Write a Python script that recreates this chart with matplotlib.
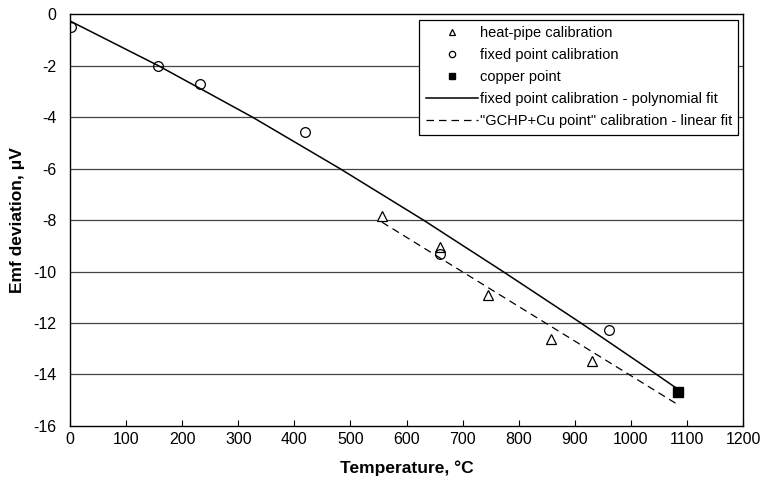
import numpy as np
import matplotlib.pyplot as plt

plt.rcParams['font.family'] = ['Liberation Sans', 'DejaVu Sans']
plt.rcParams['axes.unicode_minus'] = False

# fixed point calibration (measured points)
fp_t = [2, 156.6, 231.9, 419.5, 660.3, 961.8]
fp_e = [-0.5, -2.0, -2.72, -4.58, -9.32, -12.27]

# heat-pipe calibration
hp_t = [557, 660, 745, 857, 930]
hp_e = [-7.84, -9.05, -10.91, -12.62, -13.48]

# copper point
cu_t = [1084.6]
cu_e = [-14.68]

# polynomial fit curve
poly_t = [0, 157, 325, 481, 630, 772, 911, 1046, 1084.6]
poly_e = [-0.27, -2.0, -4.0, -6.0, -8.0, -10.0, -12.0, -14.0, -14.58]

# linear fit (GCHP + Cu)
lin_t = [556, 1084.6]
lin_e = [-8.08, -15.18]

fig = plt.figure(figsize=(7.62, 4.86), dpi=100)
ax = fig.add_axes([0.092, 0.1235, 0.883, 0.8475])

for yv in range(-14, 0, 2):
    ax.axhline(yv, color='#444444', lw=0.9, zorder=0)

ax.plot(hp_t, hp_e, ls='none', marker='^', ms=7, mfc='white', mec='black', mew=0.9,
        label='heat-pipe calibration', zorder=3)
ax.plot(fp_t, fp_e, ls='none', marker='o', ms=7, mfc='none', mec='black', mew=0.9,
        label='fixed point calibration', zorder=3)
ax.plot(cu_t, cu_e, ls='none', marker='s', ms=7, color='black',
        label='copper point', zorder=4)
ax.plot(poly_t, poly_e, color='black', lw=1.1,
        label='fixed point calibration - polynomial fit', zorder=2)
ax.plot(lin_t, lin_e, color='black', lw=0.9, ls=(0, (6, 4)),
        label='"GCHP+Cu point" calibration - linear fit', zorder=2)

ax.set_xlim(0, 1200)
ax.set_ylim(-16, 0)
ax.set_xticks(np.arange(0, 1201, 100))
ax.set_yticks(np.arange(-16, 1, 2))
ax.tick_params(axis='x', direction='in', length=4, labelsize=11.5, pad=4)
ax.tick_params(axis='y', length=0, labelsize=11.5, pad=10)
for s in ax.spines.values():
    s.set_linewidth(1.0)

ax.set_xlabel('Temperature, °C', fontsize=12.5, fontweight='bold', labelpad=10)
ax.set_ylabel('Emf deviation, μV', fontsize=12.5, fontweight='bold', labelpad=6)

leg = ax.legend(loc='upper right', bbox_to_anchor=(1.004, 1.004), fontsize=10.5,
                frameon=True, fancybox=False, framealpha=1, edgecolor='black',
                handlelength=3.6, handletextpad=0.1, borderpad=0.45, labelspacing=0.55,
                markerscale=0.65)
leg.get_frame().set_linewidth(0.9)

plt.savefig('out.png', dpi=100)
